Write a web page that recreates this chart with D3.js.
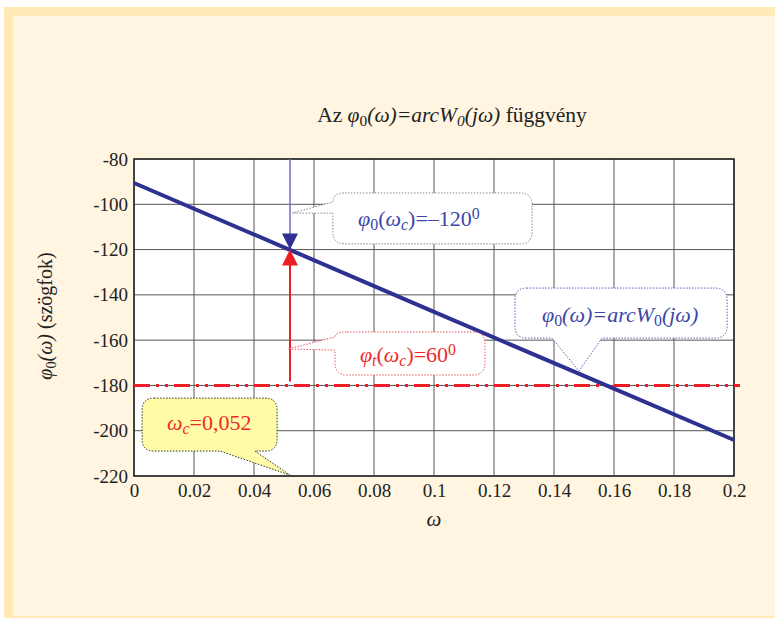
<!DOCTYPE html>
<html>
<head>
<meta charset="utf-8">
<script src="https://d3js.org/d3.v7.min.js"></script>
<style>
  body { margin: 0; background: #fff; }
</style>
</head>
<body>
<script>
// data
var omegaVals = [0, 0.05, 0.1, 0.15, 0.2];
var phaseVals = [-90.6, -119.0, -147.5, -175.8, -204.1];
var xTicks = [0, 0.02, 0.04, 0.06, 0.08, 0.1, 0.12, 0.14, 0.16, 0.18, 0.2];
var yTicks = [-80, -100, -120, -140, -160, -180, -200, -220];
var omegaC = 0.052;
var phaseC = -120;
var phaseLimit = -180;

var serif = "'Liberation Serif'";

var W = 775, H = 618;
var margin = {top: 159, right: 41, bottom: 142, left: 134},
    width = W - margin.left - margin.right,
    height = H - margin.top - margin.bottom;

var svg = d3.select("body").append("svg")
    .attr("width", W)
    .attr("height", H)
    .style("font-family", serif);

// panel background with band
svg.append("rect").attr("x", 4).attr("y", 7).attr("width", W - 4).attr("height", H - 7).attr("fill", "#FFEAB8");
svg.append("rect").attr("x", 13).attr("y", 16).attr("width", W - 13).attr("height", H - 18).attr("fill", "#FFF5E1");

var x = d3.scaleLinear().domain([0, 0.2]).range([0, width]);
var y = d3.scaleLinear().domain([-220, -80]).range([height, 0]);

var g = svg.append("g")
    .attr("transform", "translate(" + margin.left + "," + margin.top + ")");

g.append("rect").attr("width", width).attr("height", height).attr("fill", "#fff");

// grid
g.append("g").selectAll("line").data(xTicks).join("line")
    .attr("x1", d => x(d)).attr("x2", d => x(d))
    .attr("y1", 0).attr("y2", height)
    .attr("stroke", "#555").attr("stroke-width", 1);
g.append("g").selectAll("line").data(yTicks).join("line")
    .attr("y1", d => y(d)).attr("y2", d => y(d))
    .attr("x1", 0).attr("x2", width)
    .attr("stroke", "#555").attr("stroke-width", 1);

// axes
var xAxis = g.append("g")
    .attr("transform", "translate(0," + height + ")")
    .call(d3.axisBottom(x).tickValues(xTicks).tickSize(0).tickPadding(8).tickFormat(d3.format("")));
var yAxis = g.append("g")
    .call(d3.axisLeft(y).tickValues(yTicks).tickSize(0).tickPadding(6).tickFormat(d => String(d)));
[xAxis, yAxis].forEach(function(a) {
  a.attr("font-family", null).attr("font-size", null);
  a.select(".domain").remove();
  a.selectAll("text").attr("fill", "#222").style("font-size", "19px").style("font-family", serif);
});
g.append("rect").attr("width", width).attr("height", height)
    .attr("fill", "none").attr("stroke", "#222").attr("stroke-width", 1.5);

// -180 line
g.append("line")
    .attr("x1", x(0)).attr("x2", x(0.202))
    .attr("y1", y(phaseLimit)).attr("y2", y(phaseLimit))
    .attr("stroke", "#EE1C25").attr("stroke-width", 3)
    .attr("stroke-dasharray", "16,6,3,6,3,6");

// phase line
var line = d3.line().x((d, i) => x(omegaVals[i])).y(d => y(d));
g.append("path").datum(phaseVals)
    .attr("d", line)
    .attr("fill", "none")
    .attr("stroke", "#2E3192")
    .attr("stroke-width", 4);

// arrows at omega_c
var xc = x(omegaC), yc = y(phaseC);
g.append("line").attr("x1", xc).attr("x2", xc).attr("y1", 0).attr("y2", yc - 14)
    .attr("stroke", "#6A72BA").attr("stroke-width", 1.5);
g.append("path").attr("d", "M" + (xc - 8) + "," + (yc - 16) + "L" + (xc + 8) + "," + (yc - 16) + "L" + xc + "," + yc + "Z")
    .attr("fill", "#2E3192");
g.append("line").attr("x1", xc).attr("x2", xc).attr("y1", yc + 14).attr("y2", y(phaseLimit) - 4)
    .attr("stroke", "#EE1C25").attr("stroke-width", 2);
g.append("path").attr("d", "M" + (xc - 8) + "," + (yc + 16) + "L" + (xc + 8) + "," + (yc + 16) + "L" + xc + "," + yc + "Z")
    .attr("fill", "#EE1C25");

// callout shapes
function calloutLeft(x0, y0, x1, y1, ta, tb, tx, ty, r) {
  return "M" + (x0 + r) + "," + y0 + "H" + (x1 - r) + "Q" + x1 + "," + y0 + " " + x1 + "," + (y0 + r) +
    "V" + (y1 - r) + "Q" + x1 + "," + y1 + " " + (x1 - r) + "," + y1 +
    "H" + (x0 + r) + "Q" + x0 + "," + y1 + " " + x0 + "," + (y1 - r) +
    "V" + tb + "L" + tx + "," + ty + "L" + x0 + "," + ta +
    "Q" + x0 + "," + y0 + " " + (x0 + r) + "," + y0 + "Z";
}
function calloutBottom(x0, y0, x1, y1, ta, tb, tx, ty, r) {
  return "M" + (x0 + r) + "," + y0 + "H" + (x1 - r) + "Q" + x1 + "," + y0 + " " + x1 + "," + (y0 + r) +
    "V" + (y1 - r) + "Q" + x1 + "," + y1 + " " + (x1 - r) + "," + y1 +
    "H" + tb + "L" + tx + "," + ty + "L" + ta + "," + y1 +
    "H" + (x0 + r) + "Q" + x0 + "," + y1 + " " + x0 + "," + (y1 - r) +
    "V" + (y0 + r) + "Q" + x0 + "," + y0 + " " + (x0 + r) + "," + y0 + "Z";
}

// callout 1: phi0(omega_c) = -120
g.append("path")
    .attr("d", calloutLeft(x(0.0663), y(-95), x(0.1327), y(-117.5), y(-99), y(-103.9), x(0.0527), y(-103.9), 12))
    .attr("fill", "#fff").attr("stroke", "#888").attr("stroke-width", 1).attr("stroke-dasharray", "1.5,1.5");
// callout 2: phi_t(omega_c) = 60
g.append("path")
    .attr("d", calloutLeft(x(0.067), y(-156.4), x(0.117), y(-175.4), y(-158.6), y(-164.4), x(0.0513), y(-163.9), 12))
    .attr("fill", "#fff").attr("stroke", "#EE5560").attr("stroke-width", 1).attr("stroke-dasharray", "1.5,1.5");
// callout 3: curve label
g.append("path")
    .attr("d", calloutBottom(x(0.127), y(-137), x(0.1977), y(-159.1), x(0.1393), x(0.156), x(0.1483), y(-173.6), 12))
    .attr("fill", "#fff").attr("stroke", "#5560B0").attr("stroke-width", 1).attr("stroke-dasharray", "1.5,1.5");
// callout 4: omega_c
g.append("path")
    .attr("d", calloutBottom(x(0.0027), y(-185.6), x(0.0477), y(-209), x(0.0287), x(0.0403), x(0.052), y(-219.6), 12))
    .attr("fill", "#FFFBA6").attr("stroke", "#333").attr("stroke-width", 1).attr("stroke-dasharray", "1.5,1.5");

// rich text helper: parts = [text, style] where style: i=italic, sub, sup
function rich(sel, parts) {
  sel.style("font-family", serif);
  parts.forEach(function(p) {
    var t = sel.append("tspan").text(p[0]);
    var st = p[1] || "";
    if (st.indexOf("i") >= 0) t.style("font-style", "italic");
    if (st.indexOf("sub") >= 0) t.attr("baseline-shift", "-25%").style("font-size", "72%");
    if (st.indexOf("sup") >= 0) t.attr("baseline-shift", "45%").style("font-size", "72%");
  });
  return sel;
}

var blueTxt = "#3C46A8", redTxt = "#EE2A2A";

rich(g.append("text").attr("x", x(0.0747)).attr("y", y(-109.6))
    .attr("fill", blueTxt).style("font-size", "22px"),
  [["φ", "i"], ["0", "sub"], ["(", ""], ["ω", "i"], ["c", "isub"], [")=–120", ""], ["0", "sup"]]);

rich(g.append("text").attr("x", x(0.0753)).attr("y", y(-169.7))
    .attr("fill", redTxt).style("font-size", "22px"),
  [["φ", "i"], ["t", "isub"], ["(", ""], ["ω", "i"], ["c", "isub"], [")=60", ""], ["0", "sup"]]);

rich(g.append("text").attr("x", x(0.136)).attr("y", y(-152))
    .attr("fill", blueTxt).style("font-size", "22px"),
  [["φ", "i"], ["0", "sub"], ["(", "i"], ["ω", "i"], [")=", "i"], ["arcW", "i"], ["0", "sub"], ["(", "i"], ["jω", "i"], [")", "i"]]);

rich(g.append("text").attr("x", x(0.011)).attr("y", y(-199.7))
    .attr("fill", redTxt).style("font-size", "22px"),
  [["ω", "i"], ["c", "isub"], ["=0,052", ""]]);

// title
rich(svg.append("text").attr("x", 452).attr("y", 122).attr("text-anchor", "middle")
    .attr("fill", "#222").style("font-size", "21.5px"),
  [["Az ", ""], ["φ", "i"], ["0", "sub"], ["(ω)=arcW", "i"], ["0", "isub"], ["(jω)", "i"], [" függvény", ""]]);

// axis titles
svg.append("text").attr("x", margin.left + width / 2).attr("y", 526).attr("text-anchor", "middle")
    .attr("fill", "#222").style("font-size", "21px").style("font-style", "italic").text("ω");
rich(svg.append("text").attr("transform", "translate(52,316) rotate(-90)")
    .attr("text-anchor", "middle").attr("fill", "#222").style("font-size", "20px"),
  [["φ", "i"], ["0", "sub"], ["(ω)", "i"], [" (szögfok)", ""]]);
</script>
</body>
</html>
